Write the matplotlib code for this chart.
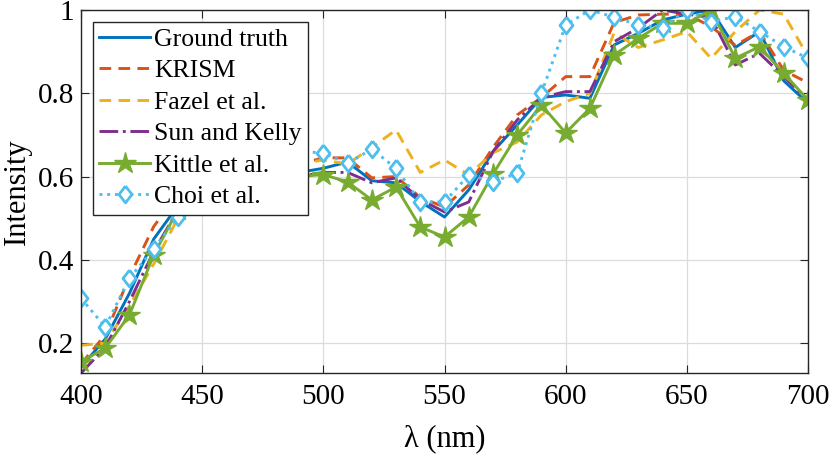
import numpy as np
from matplotlib import pyplot as plt

plt.rcParams["font.family"] = ["Liberation Serif", "DejaVu Serif"]

wl = np.arange(400, 701, 10)

ground_truth = [0.143, 0.21, 0.32, 0.45, 0.53, 0.58, 0.60, 0.61, 0.61, 0.61,
                0.62, 0.635, 0.59, 0.585, 0.54, 0.503, 0.568, 0.66, 0.724, 0.79,
                0.796, 0.788, 0.916, 0.944, 0.976, 0.99, 1.0, 0.91, 0.948, 0.83, 0.776]
krism = [0.15, 0.22, 0.36, 0.48, 0.56, 0.60, 0.62, 0.63, 0.63, 0.63,
         0.645, 0.645, 0.597, 0.60, 0.55, 0.527, 0.58, 0.67, 0.748, 0.79,
         0.84, 0.84, 0.97, 0.988, 0.99, 0.99, 0.96, 0.915, 0.948, 0.855, 0.825]
fazel = [0.195, 0.20, 0.29, 0.39, 0.50, 0.56, 0.59, 0.61, 0.62, 0.63,
         0.64, 0.63, 0.67, 0.712, 0.61, 0.64, 0.604, 0.657, 0.683, 0.748,
         0.78, 0.80, 0.945, 0.91, 0.928, 0.948, 0.884, 0.948, 1.0, 0.99, 0.888]
sun_kelly = [0.128, 0.19, 0.30, 0.42, 0.52, 0.57, 0.59, 0.60, 0.60, 0.60,
             0.61, 0.61, 0.585, 0.597, 0.545, 0.515, 0.539, 0.66, 0.736, 0.79,
             0.804, 0.804, 0.924, 0.957, 1.0, 0.99, 0.982, 0.868, 0.896, 0.84, 0.784]
kittle = [0.156, 0.188, 0.268, 0.412, 0.52, 0.57, 0.60, 0.61, 0.61, 0.60,
          0.605, 0.587, 0.544, 0.575, 0.479, 0.455, 0.503, 0.606, 0.70, 0.772,
          0.705, 0.764, 0.892, 0.932, 0.968, 0.968, 1.0, 0.884, 0.912, 0.848, 0.784]
choi = [0.308, 0.239, 0.356, 0.426, 0.503, 0.56, 0.60, 0.63, 0.65, 0.66,
        0.657, 0.632, 0.666, 0.62, 0.539, 0.539, 0.604, 0.588, 0.608, 0.80,
        0.964, 1.0, 0.983, 0.964, 0.957, 1.0, 0.972, 0.984, 0.948, 0.912, 0.884]

# MATLAB style diamond, a bit taller than wide
diamond = [(0, 1), (0.78, 0), (0, -1), (-0.78, 0), (0, 1)]

fig = plt.figure(figsize=(8.3, 4.54), dpi=100)
ax = fig.add_axes([0.0976, 0.178, 0.8759, 0.8])

lw = 2.1
ax.plot(wl, ground_truth, "-", color="#0072BD", lw=lw, label="Ground truth")
ax.plot(wl, krism, color="#D95319", lw=lw, dashes=(4, 2.5), label="KRISM")
ax.plot(wl, fazel, color="#EDB120", lw=lw, dashes=(4, 2.5), label="Fazel et al.")
ax.plot(wl, sun_kelly, "-.", color="#7E2F8E", lw=lw, label="Sun and Kelly")
ax.plot(wl, kittle, "-", color="#77AC30", lw=lw, marker="*", markersize=16,
        label="Kittle et al.")
ax.plot(wl, choi, ":", color="#4DBEEE", lw=lw, marker=diamond, markersize=12,
        markerfacecolor="white", markeredgewidth=2.0, label="Choi et al.")

ax.set_xlim(400, 700)
ax.set_ylim(0.128, 1.0)
ax.set_xticks(np.arange(400, 701, 50))
ax.set_yticks([0.2, 0.4, 0.6, 0.8, 1.0])
ax.set_yticklabels(["0.2", "0.4", "0.6", "0.8", "1"])
ax.grid(True, color="#dcdcdc", lw=0.9)
ax.set_axisbelow(True)
ax.tick_params(direction="in", top=True, right=True, labelsize=21,
               length=6, color="#262626")
ax.tick_params(axis="x", pad=8)
ax.tick_params(axis="y", pad=5)
for s in ax.spines.values():
    s.set_color("#262626")
    s.set_linewidth(1.0)

ax.set_xlabel("λ (nm)", fontsize=22, labelpad=10)
ax.set_ylabel("Intensity", fontsize=22, labelpad=4)

leg = ax.legend(loc="upper left", fontsize=18.5, handlelength=2.0, handletextpad=0.15,
                borderaxespad=0.45, labelspacing=0.33, fancybox=False,
                borderpad=0.25, framealpha=1)
leg.get_frame().set_edgecolor("#262626")
leg.get_frame().set_linewidth(1.0)

fig.savefig("out.png", dpi=100)
